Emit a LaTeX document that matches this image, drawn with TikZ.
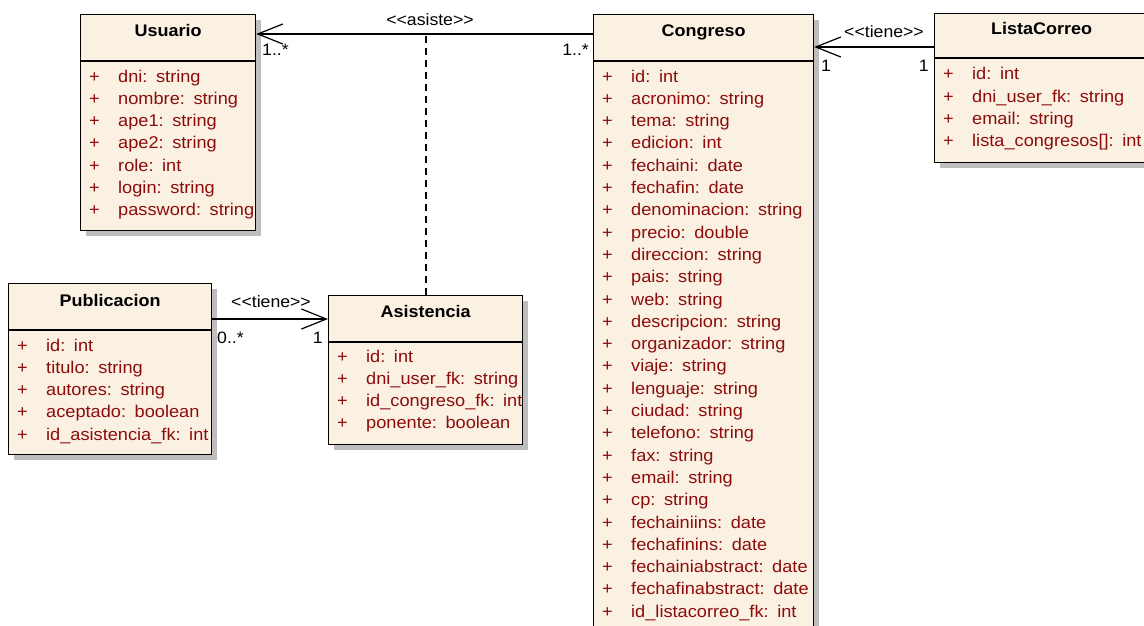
\documentclass[tikz,border=0pt]{standalone}
\usepackage{fontspec}
\setmainfont{Liberation Sans}[Ligatures=TeXOff,FakeStretch=1.07]
\usetikzlibrary{arrows.meta,calc,shadows}
\definecolor{classfill}{RGB}{251,241,227}
\definecolor{attrred}{RGB}{140,12,12}
\definecolor{shadowgray}{RGB}{190,190,190}

% gap between an attribute name and its type
\newcommand\attgap{\hspace{8.6pt}}

% attribute rows of a class box: "+" marker and text, one row every 22.3pt
\newcommand\umlattrs[3]{%
  \foreach \an [count=\ai from 0] in {#3}{
    \node[attrtext] at ($(#1.north west)+(9,#2+22.3*\ai)$) {+};
    \node[attrtext] at ($(#1.north west)+(38,#2+22.3*\ai)$) {\an};
  }}

\begin{document}
\begin{tikzpicture}[x=1pt,y=-1pt,
  classbox/.style={draw=black,line width=1.2pt,fill=classfill,anchor=north west,inner sep=0pt,
    general shadow={fill=shadowgray,shadow xshift=5pt,shadow yshift=-5pt}},
  seprule/.style={draw=black,line width=1.2pt},
  classtitle/.style={font=\fontsize{16.8}{20}\selectfont\bfseries,anchor=base,inner sep=0pt},
  attrtext/.style={font=\fontsize{17}{20}\selectfont,text=attrred,anchor=base west,inner sep=0pt},
  assoc/.style={draw=black,line width=1.2pt,-{Straight Barb[length=25pt,width=20pt,line width=1.2pt]}},
  assocclass/.style={draw=black,line width=1.8pt,dash pattern=on 7pt off 5pt},
  lbl/.style={font=\fontsize{16.5}{19}\selectfont,inner sep=0pt}]

\useasboundingbox (0,0) rectangle (1144,626);
\fill[white] (0,0) rectangle (1144,626);
\clip (0,0) rectangle (1144,626);

% class boxes
\node[classbox,minimum width=175pt,minimum height=216pt] (usuario) at (80,14) {};
\node[classbox,minimum width=203pt,minimum height=171pt] (publicacion) at (8,283) {};
\node[classbox,minimum width=194pt,minimum height=149pt] (asistencia) at (328,295) {};
\node[classbox,minimum width=220pt,minimum height=660pt] (congreso) at (593,14) {};
\node[classbox,minimum width=240pt,minimum height=149pt] (listacorreo) at (934,13) {};

% header separators
\foreach \c/\d in {usuario/47,publicacion/47,asistencia/47,congreso/47,listacorreo/45}{
  \draw[seprule] ([yshift=-\d pt]\c.north west) -- ([yshift=-\d pt]\c.north east);
}

% class names
\node[classtitle] at ([yshift=-23pt]usuario.north) {Usuario};
\node[classtitle] at ([yshift=-23pt]publicacion.north) {Publicacion};
\node[classtitle] at ([yshift=-22pt]asistencia.north) {Asistencia};
\node[classtitle] at ([yshift=-23pt]congreso.north) {Congreso};
\node[classtitle] at ([xshift=-13pt,yshift=-22pt]listacorreo.north) {ListaCorreo};

% attributes
\umlattrs{usuario}{68}{dni:\attgap string,nombre:\attgap string,ape1:\attgap string,ape2:\attgap string,role:\attgap int,login:\attgap string,password:\attgap string}
\umlattrs{publicacion}{68}{id:\attgap int,titulo:\attgap string,autores:\attgap string,aceptado:\attgap boolean,id\_asistencia\_fk:\attgap int}
\umlattrs{asistencia}{67}{id:\attgap int,dni\_user\_fk:\attgap string,id\_congreso\_fk:\attgap int,ponente:\attgap boolean}
\umlattrs{congreso}{68}{id:\attgap int,acronimo:\attgap string,tema:\attgap string,edicion:\attgap int,fechaini:\attgap date,fechafin:\attgap date,denominacion:\attgap string,precio:\attgap double,direccion:\attgap string,pais:\attgap string,web:\attgap string,descripcion:\attgap string,organizador:\attgap string,viaje:\attgap string,lenguaje:\attgap string,ciudad:\attgap string,telefono:\attgap string,fax:\attgap string,email:\attgap string,cp:\attgap string,fechainiins:\attgap date,fechafinins:\attgap date,fechainiabstract:\attgap date,fechafinabstract:\attgap date,id\_listacorreo\_fk:\attgap int}
\umlattrs{listacorreo}{67}{id:\attgap int,dni\_user\_fk:\attgap string,email:\attgap string,lista\_congresos{[]}:\attgap int}

% association Congreso -> Usuario with association class Asistencia
\coordinate (asisteU) at ([yshift=-20pt]usuario.north east);
\coordinate (asisteC) at ([yshift=-20pt]congreso.north west);
\draw[assoc] (asisteC) -- (asisteU);
\draw[assocclass] (asistencia.north) -- (asistencia.north |- asisteU);
\node[lbl] (asisteL) at (430,20) {<<asiste>>};
\node[lbl,anchor=west] (asisteM1) at (262,50) {1..*};
\node[lbl,anchor=east] (asisteM2) at (589,50) {1..*};

% association Publicacion -> Asistencia
\coordinate (tieneP) at ([yshift=-36pt]publicacion.north east);
\draw[assoc] (tieneP) -- (tieneP -| asistencia.west);
\node[lbl] (tieneL1) at (271,302) {<<tiene>>};
\node[lbl,anchor=west] (tieneM1) at (217,338) {0..*};
\node[lbl,anchor=east] (tieneM2) at (323,338) {1};

% association ListaCorreo -> Congreso
\coordinate (tieneLC) at ([yshift=-34pt]listacorreo.north west);
\draw[assoc] (tieneLC) -- (tieneLC -| congreso.east);
\node[lbl] (tieneL2) at (884,32) {<<tiene>>};
\node[lbl,anchor=west] (tieneM3) at (821,66) {1};
\node[lbl,anchor=east] (tieneM4) at (929,66) {1};
\end{tikzpicture}
\end{document}
